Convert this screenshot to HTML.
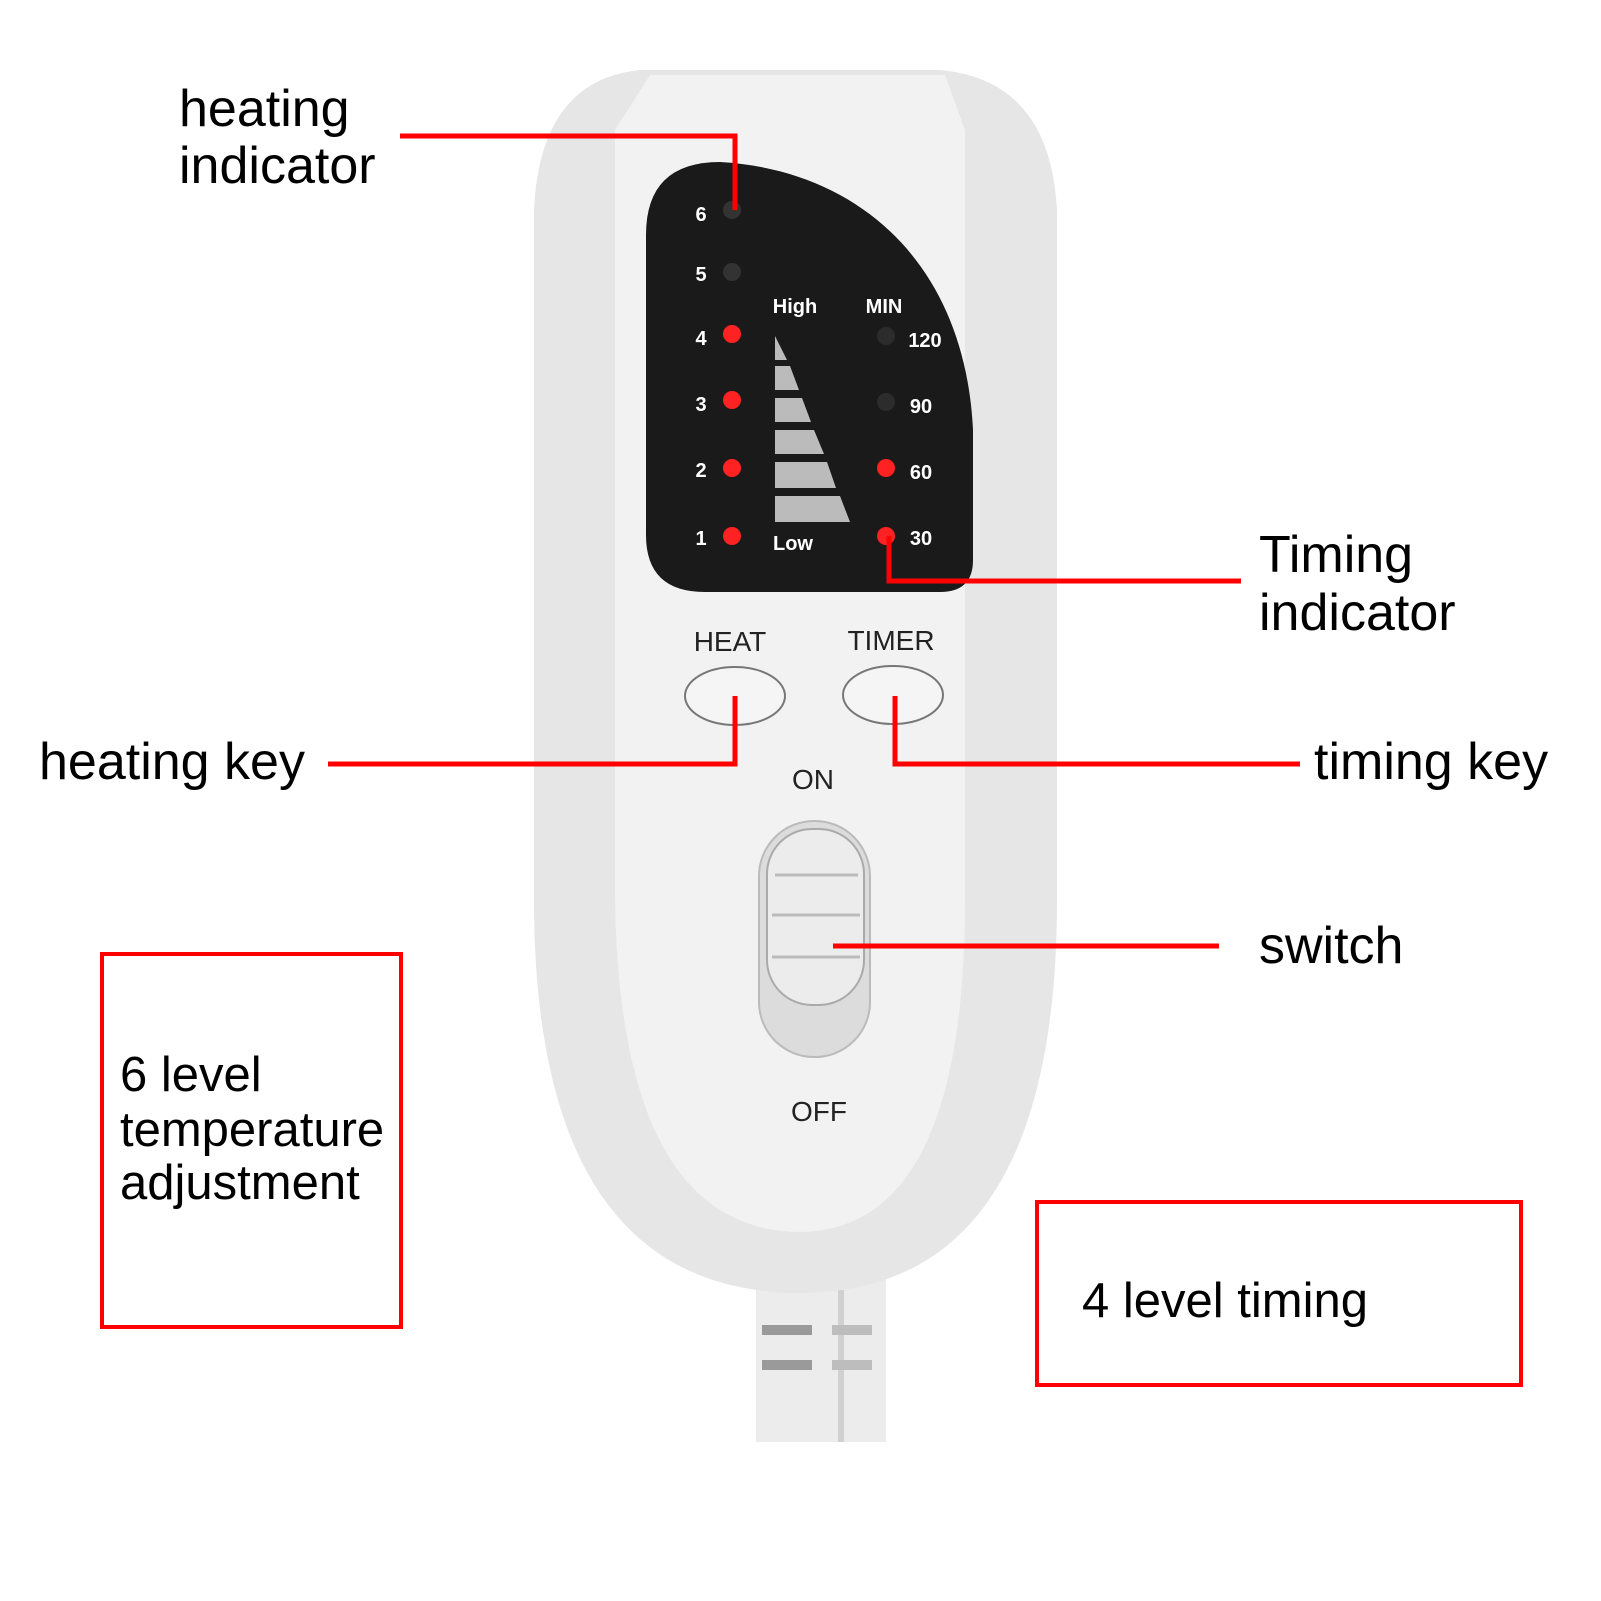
<!DOCTYPE html>
<html><head><meta charset="utf-8"><style>
html,body{margin:0;padding:0;background:#fff;}
svg{display:block;}
</style></head><body>
<svg width="1601" height="1601" viewBox="0 0 1601 1601" xmlns="http://www.w3.org/2000/svg" font-family="Liberation Sans, sans-serif">
<rect width="1601" height="1601" fill="#fff"/>
<!-- cable -->
<rect x="756" y="1270" width="130" height="172" fill="#ececec"/>
<rect x="838" y="1290" width="6" height="152" fill="#d0d0d0"/>
<rect x="762" y="1325" width="50" height="10" fill="#9a9a9a"/>
<rect x="762" y="1360" width="50" height="10" fill="#9a9a9a"/>
<rect x="832" y="1325" width="40" height="10" fill="#bdbdbd"/>
<rect x="832" y="1360" width="40" height="10" fill="#bdbdbd"/>
<!-- remote body -->
<path d="M640 70 L940 70 Q1050 80 1057 210 L1057 900 Q1057 1292 800 1293 Q534 1292 534 900 L534 210 Q540 80 640 70 Z" fill="#e6e6e6"/>
<path d="M650 75 L945 75 L965 130 L965 900 Q965 1230 800 1232 Q620 1230 615 900 L615 130 Z" fill="#f2f2f2"/>
<!-- black panel -->
<path d="M646 235 Q646 162 720 162 C860 170 965 265 973 430 L973 560 Q973 592 940 592 L705 592 Q646 592 646 535 Z" fill="#1a1a1a"/>
<g font-size="20" fill="#fff" font-weight="bold">
<text x="701" y="221" text-anchor="middle">6</text>
<text x="701" y="281" text-anchor="middle">5</text>
<text x="701" y="345" text-anchor="middle">4</text>
<text x="701" y="411" text-anchor="middle">3</text>
<text x="701" y="477" text-anchor="middle">2</text>
<text x="701" y="545" text-anchor="middle">1</text>
<text x="795" y="313" text-anchor="middle">High</text>
<text x="884" y="313" text-anchor="middle">MIN</text>
<text x="793" y="550" text-anchor="middle">Low</text>
<text x="925" y="347" text-anchor="middle">120</text>
<text x="921" y="413" text-anchor="middle">90</text>
<text x="921" y="479" text-anchor="middle">60</text>
<text x="921" y="545" text-anchor="middle">30</text>
</g>
<circle cx="732" cy="210" r="9" fill="#333"/>
<circle cx="732" cy="272" r="9" fill="#333"/>
<circle cx="732" cy="334" r="9" fill="#f22"/>
<circle cx="732" cy="400" r="9" fill="#f22"/>
<circle cx="732" cy="468" r="9" fill="#f22"/>
<circle cx="732" cy="536" r="9" fill="#f22"/>
<circle cx="886" cy="336" r="9" fill="#2c2c2c"/>
<circle cx="886" cy="402" r="9" fill="#2c2c2c"/>
<circle cx="886" cy="468" r="9" fill="#f22"/>
<circle cx="886" cy="536" r="9" fill="#f22"/>
<g fill="#bbb">
<polygon points="775,336 775,360 787,360"/>
<polygon points="775,366 790,366 799,390 775,390"/>
<polygon points="775,398 802,398 811,422 775,422"/>
<polygon points="775,430 814,430 824,454 775,454"/>
<polygon points="775,462 827,462 836,488 775,488"/>
<polygon points="775,496 840,496 850,522 775,522"/>
</g>
<g font-size="28" fill="#222" text-anchor="middle">
<text x="730" y="651">HEAT</text>
<text x="891" y="650">TIMER</text>
<text x="813" y="789">ON</text>
<text x="819" y="1121">OFF</text>
</g>
<ellipse cx="735" cy="696" rx="50" ry="29" fill="#f5f5f5" stroke="#777" stroke-width="2"/>
<ellipse cx="893" cy="695" rx="50" ry="29" fill="#f5f5f5" stroke="#777" stroke-width="2"/>
<rect x="759" y="821" width="111" height="236" rx="55" fill="#dcdcdc" stroke="#bbb" stroke-width="2"/>
<rect x="767" y="829" width="97" height="176" rx="45" fill="#ececec" stroke="#aaa" stroke-width="2"/>
<g stroke="#bbb" stroke-width="3"><line x1="775" y1="875" x2="858" y2="875"/><line x1="772" y1="915" x2="860" y2="915"/><line x1="772" y1="957" x2="860" y2="957"/></g>
<g stroke="#f00" stroke-width="5" fill="none">
<polyline points="400,136 735,136 735,210"/>
<polyline points="889,536 889,581 1241,581"/>
<polyline points="328,764 735,764 735,696"/>
<polyline points="895,696 895,764 1300,764"/>
<line x1="833" y1="946" x2="1219" y2="946"/>
<rect x="102" y="954" width="299" height="373" stroke-width="4"/>
<rect x="1037" y="1202" width="484" height="183" stroke-width="4"/>
</g>
<g font-size="52" fill="#000">
<text x="179" y="126">heating</text>
<text x="179" y="183">indicator</text>
<text x="1259" y="572">Timing</text>
<text x="1259" y="630">indicator</text>
<text x="39" y="779">heating key</text>
<text x="1314" y="779">timing key</text>
<text x="1259" y="963">switch</text>
</g>
<g font-size="49" fill="#000">
<text x="120" y="1091">6 level</text>
<text x="120" y="1146">temperature</text>
<text x="120" y="1199">adjustment</text>
<text x="1082" y="1317">4 level timing</text>
</g>
</svg>
</body></html>
